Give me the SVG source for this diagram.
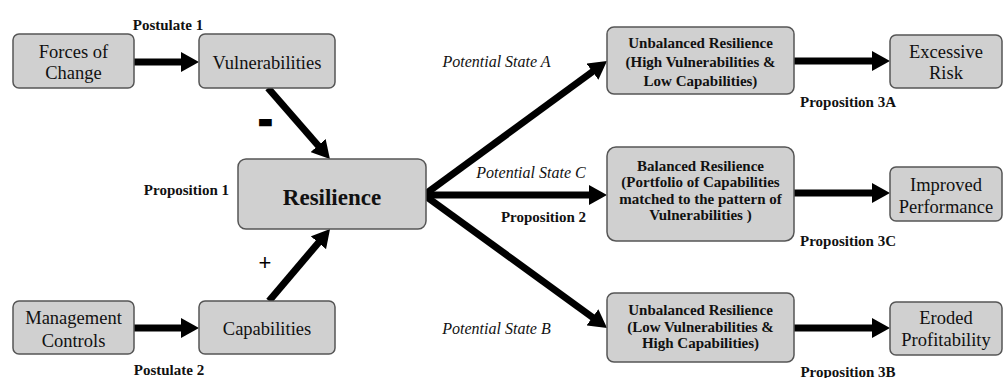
<svg xmlns="http://www.w3.org/2000/svg" width="1004" height="378" viewBox="0 0 1004 378">
<style>
text{font-family:"Liberation Serif","Times New Roman",Times,"Noto Serif","DejaVu Serif",serif;fill:#111;text-anchor:middle}
.box{fill:#d0d0d0;stroke:#555;stroke-width:1.5}
.n{font-size:18.5px}
.b{font-size:15px;font-weight:bold}
.lbl{font-size:15px;font-weight:bold}
.it{font-size:16px;font-style:italic}
.c{stroke:#000;stroke-width:7;fill:none;marker-end:url(#ah)}
</style>
<defs>
<marker id="ah" markerUnits="userSpaceOnUse" viewBox="0 0 18 20" markerWidth="18" markerHeight="20" refX="2" refY="10" orient="auto">
<path d="M0,0 L18,10 L0,20 z" fill="#000"/>
</marker>
</defs>
<rect width="1004" height="378" fill="#fff"/>
<g id="connectors">
<line class="c" x1="134" y1="62" x2="183" y2="62"/>
<line class="c" x1="134" y1="328" x2="183" y2="328"/>
<line class="c" x1="268" y1="88" x2="319.4" y2="147"/>
<line class="c" x1="269" y1="301" x2="319.7" y2="241.2"/>
<line class="c" x1="424" y1="195" x2="594.1" y2="70.5"/>
<line class="c" x1="424" y1="195" x2="591" y2="195"/>
<line class="c" x1="424" y1="195" x2="594.1" y2="318.5"/>
<line class="c" x1="794" y1="61" x2="874" y2="61"/>
<line class="c" x1="794" y1="193" x2="874" y2="193"/>
<line class="c" x1="794" y1="328" x2="874" y2="328"/>
</g>
<g id="forces">
<rect class="box" x="13" y="34" width="121" height="54" rx="6"/>
<text class="n" x="73.5" y="58">Forces of</text>
<text class="n" x="73.5" y="79">Change</text>
</g>
<g id="vulnerabilities">
<rect class="box" x="199" y="34" width="136" height="54" rx="6"/>
<text class="n" x="267" y="69">Vulnerabilities</text>
</g>
<g id="management">
<rect class="box" x="13" y="301" width="121" height="53" rx="6"/>
<text class="n" x="73.5" y="324">Management</text>
<text class="n" x="73.5" y="347">Controls</text>
</g>
<g id="capabilities">
<rect class="box" x="199" y="301" width="136" height="53" rx="6"/>
<text class="n" x="267" y="335">Capabilities</text>
</g>
<g id="resilience">
<rect class="box" x="238" y="159" width="188" height="70" rx="8"/>
<text x="332" y="205" style="font-size:23px;font-weight:bold">Resilience</text>
</g>
<g id="stateA">
<rect class="box" x="607" y="27" width="187" height="67" rx="7"/>
<text class="b" x="700.5" y="48">Unbalanced Resilience</text>
<text class="b" x="700.5" y="67">(High Vulnerabilities &amp;</text>
<text class="b" x="700.5" y="86">Low Capabilities)</text>
</g>
<g id="stateC">
<rect class="box" x="607" y="147" width="187" height="94" rx="9"/>
<text class="b" x="700.5" y="171">Balanced Resilience</text>
<text class="b" x="700.5" y="187">(Portfolio of Capabilities</text>
<text class="b" x="700.5" y="204">matched to the pattern of</text>
<text class="b" x="700.5" y="220">Vulnerabilities )</text>
</g>
<g id="stateB">
<rect class="box" x="607" y="293" width="187" height="69" rx="7"/>
<text class="b" x="700.5" y="315">Unbalanced Resilience</text>
<text class="b" x="700.5" y="332">(Low Vulnerabilities &amp;</text>
<text class="b" x="700.5" y="348">High Capabilities)</text>
</g>
<g id="excessive">
<rect class="box" x="890" y="35" width="112" height="53" rx="6"/>
<text class="n" x="946" y="58">Excessive</text>
<text class="n" x="946" y="79">Risk</text>
</g>
<g id="improved">
<rect class="box" x="890" y="167" width="112" height="54" rx="6"/>
<text class="n" x="946" y="191">Improved</text>
<text class="n" x="946" y="213">Performance</text>
</g>
<g id="eroded">
<rect class="box" x="890" y="302" width="112" height="53" rx="6"/>
<text class="n" x="946" y="324">Eroded</text>
<text class="n" x="946" y="346">Profitability</text>
</g>
<g id="labels">
<text class="lbl" x="168" y="30">Postulate 1</text>
<text class="lbl" x="169" y="375">Postulate 2</text>
<text class="lbl" x="229" y="195" style="text-anchor:end">Proposition 1</text>
<text class="lbl" x="543.5" y="222">Proposition 2</text>
<text class="lbl" x="848" y="107">Proposition 3A</text>
<text class="lbl" x="848" y="246">Proposition 3C</text>
<text class="lbl" x="848" y="377">Proposition 3B</text>
<text class="it" x="496.5" y="67">Potential State A</text>
<text class="it" x="531" y="178">Potential State C</text>
<text class="it" x="496.5" y="334">Potential State B</text>
<text x="265.5" y="133" style="font-family:'Liberation Sans',Arial,sans-serif;font-size:40px;font-weight:bold;fill:#000;stroke:#000;stroke-width:2.5">-</text>
<text x="265" y="270" style="font-family:'Liberation Sans',Arial,sans-serif;font-size:22px;fill:#000">+</text>
</g>
</svg>
